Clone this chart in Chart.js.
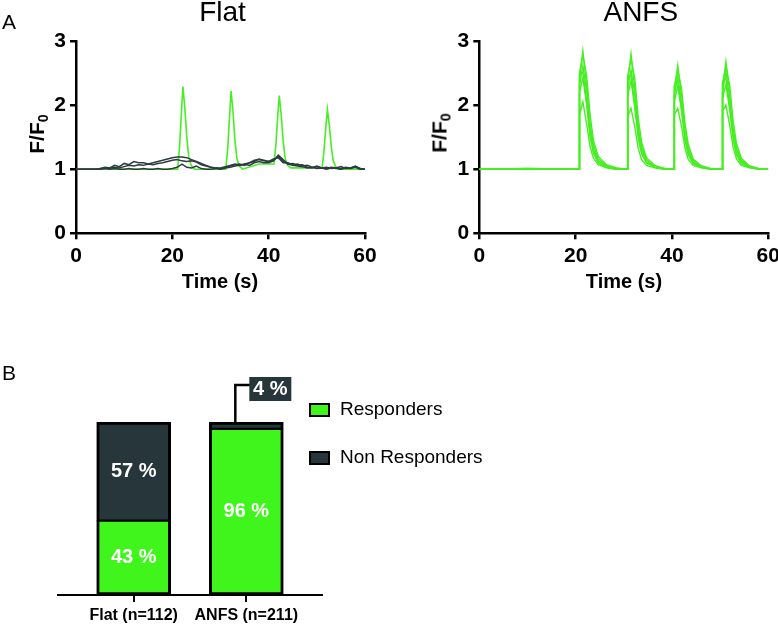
<!DOCTYPE html>
<html>
<head>
<meta charset="utf-8">
<script src="https://cdn.jsdelivr.net/npm/chart.js@4.4.1/dist/chart.umd.min.js"></script>
<style>
  html, body { margin: 0; padding: 0; background: #fff; }
  #page { position: relative; width: 778px; height: 624px; overflow: hidden;
          font-family: "Liberation Sans", Arial, Helvetica, sans-serif; color: #000; }
  #page canvas { position: absolute; }
  .txt { position: absolute; white-space: nowrap; line-height: 1; }
  .ytitle { position: absolute; white-space: nowrap; font-weight: bold; font-size: 21px; line-height: 1;
            transform: translate(-50%, -50%) rotate(-90deg); }
  .ytitle sub { font-size: 0.68em; vertical-align: -0.3em; line-height: 0; }
</style>
</head>
<body>
<div id="page">
  <canvas id="flatChart" width="390" height="300" style="left:0;top:0"></canvas>
  <canvas id="anfsChart" width="388" height="300" style="left:390px;top:0"></canvas>
  <canvas id="barChart" width="778" height="294" style="left:0;top:330px"></canvas>
  <div class="ytitle" style="left:36px;top:134px">F/F<sub>0</sub></div>
  <div class="ytitle" style="left:439px;top:133px">F/F<sub>0</sub></div>
</div>
<script>
var FONT = '"Liberation Sans", Arial, Helvetica, sans-serif';
var GREEN = '#40f51b';
var LINE_GREEN = '#46ee22';
var DARK = '#27363b';
var LINE_DARK = '#2e3c41';

// ---- panel A, Flat: F/F0 traces, 1 s sampling for the non responders
var flatTime = [
  0, 1, 2, 3, 4, 5, 6, 7, 8, 9,
  10, 11, 12, 13, 14, 15, 16, 17, 18, 19,
  20, 21, 22, 23, 24, 25, 26, 27, 28, 29,
  30, 31, 32, 33, 34, 35, 36, 37, 38, 39,
  40, 41, 42, 43, 44, 45, 46, 47, 48, 49,
  50, 51, 52, 53, 54, 55, 56, 57, 58, 59, 60
];
var flatDark1 = [
  1.00, 1.00, 1.00, 1.00, 1.00, 1.01, 1.03, 1.02, 1.06, 1.04,
  1.09, 1.07, 1.12, 1.10, 1.10, 1.08, 1.10, 1.12, 1.14, 1.16,
  1.18, 1.19, 1.19, 1.18, 1.15, 1.12, 1.09, 1.06, 1.03, 1.02,
  1.02, 1.04, 1.05, 1.07, 1.08, 1.06, 1.10, 1.14, 1.15, 1.13,
  1.12, 1.14, 1.20, 1.12, 1.08, 1.09, 1.06, 1.07, 1.03, 1.02,
  1.05, 1.02, 1.03, 1.01, 1.02, 1.04, 1.01, 1.02, 1.05, 1.01, 1.00
];
var flatDark2 = [
  1.00, 1.00, 1.00, 1.00, 1.00, 1.00, 1.02, 1.01, 1.03, 1.02,
  1.04, 1.06, 1.05, 1.07, 1.06, 1.08, 1.07, 1.09, 1.10, 1.12,
  1.14, 1.15, 1.13, 1.12, 1.13, 1.11, 1.07, 1.05, 1.03, 1.02,
  1.01, 1.03, 1.06, 1.08, 1.06, 1.08, 1.10, 1.12, 1.16, 1.14,
  1.12, 1.16, 1.18, 1.10, 1.10, 1.07, 1.08, 1.05, 1.06, 1.03,
  1.04, 1.02, 1.01, 1.03, 1.02, 1.01, 1.03, 1.02, 1.04, 1.01, 1.00
];
var flatDark3 = [
  1.00, 1.00, 1.00, 1.00, 1.00, 1.00, 1.01, 1.00, 1.01, 1.00,
  1.00, 1.01, 1.00, 1.00, 1.01, 1.00, 1.00, 1.01, 1.00, 1.00,
  1.01, 1.03, 1.08, 1.03, 1.02, 1.05, 1.01, 1.00, 1.00, 1.01,
  1.00, 1.02, 1.03, 1.05, 1.06, 1.08, 1.06, 1.10, 1.12, 1.10,
  1.10, 1.13, 1.22, 1.15, 1.08, 1.06, 1.05, 1.04, 1.02, 1.03,
  1.01, 1.02, 1.00, 1.02, 1.01, 1.00, 1.02, 1.01, 1.03, 1.00, 1.00
];
// the one responding cell in the Flat group
var flatGreenTime = [
  0, 5, 10, 15, 20,
  21.1, 21.5, 21.9, 22.2, 22.6, 23.0, 23.4, 23.9, 24.6, 28,
  31.1, 31.5, 31.9, 32.2, 32.6, 33.0, 33.4, 33.9, 34.6, 38,
  41.1, 41.5, 41.9, 42.2, 42.6, 43.0, 43.4, 43.9, 44.6, 48,
  51.1, 51.5, 51.9, 52.2, 52.6, 53.0, 53.4, 53.9, 54.6, 60
];
var flatGreen = [
  1.00, 1.00, 1.00, 1.00, 1.00,
  1.00, 1.35, 1.90, 2.29, 1.95, 1.50, 1.20, 1.06, 1.00, 1.00,
  1.00, 1.32, 1.85, 2.22, 1.90, 1.45, 1.17, 1.05, 1.00, 1.08,
  1.08, 1.38, 1.85, 2.15, 1.85, 1.45, 1.18, 1.06, 1.02, 1.02,
  1.02, 1.30, 1.68, 1.93, 1.68, 1.35, 1.13, 1.04, 1.00, 1.00
];

// ---- panel A, ANFS: every cell responds to the four stimulations
var anfsTime = [
  0, 10,
  20.75, 20.8, 21.5, 22.3, 23.0, 23.7, 24.7, 26.4, 28.5,
  30.75, 30.8, 31.5, 32.3, 33.0, 33.7, 34.7, 36.4, 38.5,
  40.45, 40.5, 41.2, 42.0, 42.7, 43.4, 44.4, 46.1, 48.2,
  50.45, 50.5, 51.2, 52.0, 52.7, 53.4, 54.4, 56.1, 58.2,
  60
];
var anfs1 = [
  1.00, 1.01,
  1.00, 2.40, 2.85, 2.30, 1.62, 1.31, 1.13, 1.05, 1.01,
  1.00, 2.35, 2.80, 2.25, 1.60, 1.30, 1.12, 1.04, 1.01,
  1.00, 2.20, 2.62, 2.15, 1.55, 1.28, 1.11, 1.04, 1.00,
  1.00, 2.25, 2.68, 2.20, 1.58, 1.30, 1.12, 1.04, 1.00,
  1.00
];
var anfs2 = [
  1.00, 1.00,
  1.00, 2.50, 2.78, 2.45, 1.85, 1.45, 1.20, 1.07, 1.02,
  1.00, 2.45, 2.72, 2.40, 1.80, 1.42, 1.18, 1.06, 1.01,
  1.00, 2.30, 2.55, 2.25, 1.72, 1.38, 1.16, 1.05, 1.01,
  1.00, 2.35, 2.60, 2.30, 1.75, 1.40, 1.17, 1.05, 1.01,
  1.00
];
var anfs3 = [
  1.00, 1.00,
  1.00, 2.30, 2.62, 2.20, 1.70, 1.38, 1.16, 1.06, 1.01,
  1.00, 2.25, 2.55, 2.15, 1.66, 1.35, 1.15, 1.05, 1.00,
  1.00, 2.15, 2.45, 2.05, 1.60, 1.32, 1.14, 1.05, 1.00,
  1.00, 2.20, 2.52, 2.10, 1.62, 1.33, 1.14, 1.05, 1.00,
  1.00
];
var anfs4 = [
  1.00, 1.00,
  1.00, 2.45, 2.52, 2.05, 1.55, 1.27, 1.10, 1.03, 1.00,
  1.00, 2.40, 2.48, 2.00, 1.52, 1.25, 1.10, 1.03, 1.00,
  1.00, 2.30, 2.38, 1.95, 1.48, 1.23, 1.09, 1.03, 1.00,
  1.00, 2.35, 2.42, 1.98, 1.50, 1.24, 1.09, 1.03, 1.00,
  1.00
];
var anfs5 = [
  1.00, 1.01,
  1.00, 2.20, 2.42, 2.00, 1.50, 1.25, 1.10, 1.04, 1.00,
  1.00, 2.15, 2.38, 1.95, 1.48, 1.24, 1.10, 1.04, 1.00,
  1.00, 2.05, 2.30, 1.90, 1.45, 1.22, 1.09, 1.03, 1.00,
  1.00, 2.10, 2.32, 1.92, 1.46, 1.22, 1.09, 1.03, 1.00,
  1.00
];
var anfs6 = [
  1.00, 1.00,
  1.00, 1.85, 2.05, 1.70, 1.35, 1.17, 1.07, 1.02, 1.00,
  1.00, 1.82, 1.95, 1.65, 1.32, 1.15, 1.06, 1.02, 1.00,
  1.00, 1.85, 1.95, 1.66, 1.33, 1.15, 1.06, 1.02, 1.00,
  1.00, 1.90, 2.00, 1.68, 1.34, 1.16, 1.06, 1.02, 1.00,
  1.00
];

var yTicks = [0, 1, 2, 3];
var xTicks = [0, 20, 40, 60];

// ---- panel B
var groups = ['Flat (n=112)', 'ANFS (n=211)'];
var responders = [43, 96];
var nonResponders = [57, 4];

// ---------------------------------------------------------------

function addText(txt, x, baseline, size, weight, align) {
  var d = document.createElement('div');
  d.className = 'txt';
  d.textContent = txt;
  d.style.fontSize = size + 'px';
  d.style.fontWeight = weight;
  d.style.left = x + 'px';
  d.style.top = (baseline - 0.8465 * size) + 'px';
  if (align == 'center') d.style.transform = 'translateX(-50%)';
  document.getElementById('page').appendChild(d);
}

function trace(times, values, color, width) {
  return {
    data: times.map(function(t, i) { return {x: t, y: values[i]}; }),
    borderColor: color,
    borderWidth: width,
    pointRadius: 0,
    tension: 0,
    fill: false
  };
}

function axis(ticks, fixSize) {
  return {
    type: 'linear',
    min: ticks[0],
    max: ticks[ticks.length - 1],
    border: {display: true, color: '#000', width: 2.5},
    grid: {display: true, drawOnChartArea: false, drawTicks: true, tickLength: 6,
           color: '#000', lineWidth: 2.5, tickColor: '#000', tickWidth: 2.5},
    ticks: {stepSize: ticks[1] - ticks[0], color: '#000', padding: 4, maxRotation: 0,
            autoSkip: false, font: {family: FONT, size: 21, weight: 'bold'}},
    afterFit: fixSize
  };
}

// chart area is pinned so both panels line up with the figure
function lineChart(id, datasets, yWidth, padRight) {
  var x = axis(xTicks, function(s) { s.height = 66.7; s.paddingLeft = 0; s.paddingRight = 0; });
  var y = axis(yTicks, function(s) { s.width = yWidth; s.paddingTop = 0; s.paddingBottom = 0; });
  return new Chart(document.getElementById(id), {
    type: 'line',
    data: {datasets: datasets},
    options: {
      responsive: false,
      animation: false,
      events: [],
      layout: {padding: {left: 0, right: padRight, top: 41, bottom: 0}},
      plugins: {legend: {display: false}, tooltip: {enabled: false}},
      scales: {x: x, y: y}
    }
  });
}

// dataset 0 is drawn on top, so the grey traces go first
lineChart('flatChart', [
  trace(flatTime, flatDark1, LINE_DARK, 1.5),
  trace(flatTime, flatDark2, LINE_DARK, 1.5),
  trace(flatTime, flatDark3, LINE_DARK, 1.5),
  trace(flatGreenTime, flatGreen, LINE_GREEN, 1.6)
], 76, 25);

lineChart('anfsChart', [anfs1, anfs2, anfs3, anfs4, anfs5, anfs6].map(function(v) {
  return trace(anfsTime, v, LINE_GREEN, 1.4);
}), 89.3, 9.7);

// percentages inside bars, the callout for the thin slice, and the legend
var barDecor = {
  id: 'barDecor',
  afterDatasetsDraw: function(chart) {
    var ctx = chart.ctx;
    ctx.save();
    ctx.textAlign = 'center';
    ctx.textBaseline = 'middle';
    ctx.font = 'bold 20px ' + FONT;
    chart.data.datasets.forEach(function(ds, di) {
      chart.getDatasetMeta(di).data.forEach(function(bar, i) {
        var v = ds.data[i].y;
        var label = v + ' %';
        if (v >= 10) {
          ctx.fillStyle = '#fff';
          ctx.fillText(label, bar.x, (bar.y + bar.base) / 2);
          return;
        }
        var lx = bar.x - 11, ly = bar.y - 37;
        ctx.strokeStyle = '#000';
        ctx.lineWidth = 2.5;
        ctx.beginPath();
        ctx.moveTo(lx, bar.y);
        ctx.lineTo(lx, ly);
        ctx.lineTo(bar.x + 4, ly);
        ctx.stroke();
        ctx.fillStyle = ds.backgroundColor;
        ctx.fillRect(bar.x + 3, ly - 8, 42, 24);
        ctx.fillStyle = '#fff';
        ctx.fillText(label, bar.x + 24, ly + 4);
      });
    });

    ctx.textAlign = 'left';
    ctx.font = '19px ' + FONT;
    chart.data.datasets.forEach(function(ds, di) {
      var cy = 80 + di * 48;
      ctx.fillStyle = ds.backgroundColor;
      ctx.fillRect(310, cy - 6, 19, 12);
      ctx.strokeStyle = '#000';
      ctx.lineWidth = 2;
      ctx.strokeRect(310, cy - 6, 19, 12);
      ctx.fillStyle = '#000';
      ctx.fillText(ds.label, 340, cy);
    });
    ctx.restore();
  }
};

new Chart(document.getElementById('barChart'), {
  type: 'bar',
  data: {
    datasets: [{
      label: 'Responders',
      data: groups.map(function(g, i) { return {x: i, y: responders[i]}; }),
      backgroundColor: GREEN,
      borderColor: '#000',
      borderWidth: {top: 1.5, left: 3, right: 3, bottom: 3},
      borderSkipped: false,
      barThickness: 74
    }, {
      label: 'Non Responders',
      data: groups.map(function(g, i) { return {x: i, y: nonResponders[i]}; }),
      backgroundColor: DARK,
      borderColor: '#000',
      borderWidth: {top: 3, left: 3, right: 3, bottom: 1.5},
      borderSkipped: false,
      barThickness: 74
    }]
  },
  options: {
    responsive: false,
    animation: false,
    events: [],
    layout: {padding: {left: 58, right: 456, top: 92, bottom: 0}},
    plugins: {legend: {display: false}, tooltip: {enabled: false}},
    scales: {
      x: {
        type: 'linear', min: -0.672, max: 1.672, stacked: true, offset: false,
        border: {display: true, color: '#000', width: 2},
        grid: {display: true, offset: false, drawOnChartArea: false, drawTicks: true, tickLength: 7,
               color: '#000', lineWidth: 2, tickColor: '#000', tickWidth: 2},
        afterBuildTicks: function(s) {
          s.ticks = groups.map(function(g, i) { return {value: i}; });
        },
        afterFit: function(s) { s.height = 29; s.paddingLeft = 0; s.paddingRight = 0; },
        ticks: {
          color: '#000', padding: 4, maxRotation: 0, autoSkip: false,
          font: {family: FONT, size: 16, weight: 'bold'},
          callback: function(v) { return groups[v]; }
        }
      },
      y: {display: false, min: 0, max: 100, stacked: true}
    }
  },
  plugins: [barDecor]
});

addText('A', 2, 28.3, 21, 'normal', 'left');
addText('B', 2, 380, 21, 'normal', 'left');
addText('Flat', 222.5, 21.7, 28, 'normal', 'center');
addText('ANFS', 640.8, 21.7, 28, 'normal', 'center');
addText('Time (s)', 220, 288, 20, 'bold', 'center');
addText('Time (s)', 624, 288, 20, 'bold', 'center');
</script>
</body>
</html>
